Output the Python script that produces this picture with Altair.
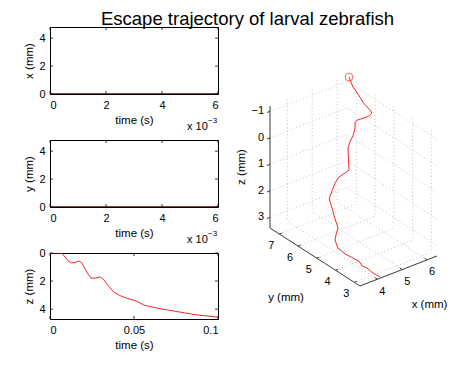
import altair as alt
import pandas as pd

TITLE = "Escape trajectory of larval zebrafish"
FONT = "Liberation Sans"
RED = "#f01010"

# ---- x(t), y(t): time in units of 1e-3 s ----
t_ms = [0, 1, 2, 3, 4, 5, 6]
x_mm = [0, 0, 0, 0, 0, 0, 0]
y_mm = [0, 0, 0, 0, 0, 0, 0]

# ---- z(t) ----
t_s = [0, 0.007, 0.009, 0.011, 0.013, 0.015, 0.0173, 0.019, 0.021, 0.023, 0.0243,
       0.027, 0.030, 0.032, 0.035, 0.038, 0.042, 0.046, 0.050, 0.053, 0.056, 0.062,
       0.068, 0.074, 0.080, 0.087, 0.093, 0.100]
z_mm = [0, 0, 0.29, 0.6, 0.71, 0.67, 0.57, 0.71, 1.19, 1.55, 1.79, 1.79, 1.71, 1.9,
        2.38, 2.79, 3.05, 3.24, 3.36, 3.52, 3.71, 3.88, 4.02, 4.14, 4.26, 4.4, 4.48, 4.57]

# ---- 3D trajectory (mm) ----
traj_x = [6.40, 6.33, 6.26, 6.20, 6.13, 6.06, 5.99, 5.92, 5.85, 5.79, 5.72, 5.65,
          5.58, 5.51, 5.45, 5.38, 5.31, 5.24, 5.17, 5.10, 5.04, 4.97, 4.90, 4.72,
          4.50, 4.28, 4.07, 4.05, 4.11, 4.15, 4.06, 4.11, 4.09, 4.12]
traj_y = [7.39, 7.09, 6.73, 6.32, 5.91, 5.72, 5.79, 5.96, 6.24, 6.26, 6.17, 6.19,
          6.26, 6.27, 6.16, 6.04, 6.16, 6.39, 6.51, 6.58, 6.65, 6.40, 6.15, 5.75,
          5.56, 5.33, 4.90, 4.49, 4.15, 3.83, 3.60, 3.41, 3.05, 2.72]
traj_z = [-1.21, -1.00, -0.92, -0.76, -0.74, -0.74, -0.62, -0.49, -0.31, -0.25,
          -0.09, 0.19, 0.42, 0.63, 1.01, 1.31, 1.45, 1.68, 1.94, 2.25, 2.55, 2.76,
          3.03, 3.12, 3.18, 3.22, 3.25, 3.28, 3.30, 3.32, 3.33, 3.34, 3.36, 3.37]

# 3D axis limits and ticks
X_LIM = [3.3, 6.4]
Y_LIM = [2.7, 7.5]
Z_LIM = [-1.2, 3.4]
x_ticks3 = [4, 5, 6]
y_ticks3 = [3, 4, 5, 6, 7]
z_ticks3 = [-1, 0, 1, 2, 3]

# ---------------- 2D panels ----------------
W, H1, H2, H3 = 168, 67, 67, 66


def ts_panel(df, xf, yf, xdom, ydom, xticks, yticks, ytitle, H, rev, exp_label):
    xs = alt.Scale(domain=xdom, nice=False, zero=False)
    ys = alt.Scale(domain=ydom, nice=False, zero=False, reverse=rev)
    xax = alt.Axis(values=xticks, title="time (s)", format="~g")
    yax = alt.Axis(values=yticks, title=ytitle, format="~g")
    line = alt.Chart(df).mark_line(color=RED, strokeWidth=0.9, clip=True).encode(
        x=alt.X(xf + ":Q", scale=xs, axis=xax),
        y=alt.Y(yf + ":Q", scale=ys, axis=yax),
    )
    xt = pd.DataFrame({"v": xticks})
    yt = pd.DataFrame({"v": yticks})
    xb = alt.Chart(xt).mark_rule(color="black", strokeWidth=0.8).encode(
        x=alt.X("v:Q", scale=xs, axis=xax), y=alt.value(H), y2=alt.value(H - 3))
    xtop = alt.Chart(xt).mark_rule(color="black", strokeWidth=0.8).encode(
        x=alt.X("v:Q", scale=xs, axis=xax), y=alt.value(0), y2=alt.value(3))
    yl = alt.Chart(yt).mark_rule(color="black", strokeWidth=0.8).encode(
        y=alt.Y("v:Q", scale=ys, axis=yax), x=alt.value(0), x2=alt.value(3))
    yr = alt.Chart(yt).mark_rule(color="black", strokeWidth=0.8).encode(
        y=alt.Y("v:Q", scale=ys, axis=yax), x=alt.value(W - 3), x2=alt.value(W))
    layers = [line, xb, xtop, yl, yr]
    if exp_label:
        edge = alt.Chart(pd.DataFrame({"a": [0]})).mark_rule(
            color="black", strokeWidth=1).encode(
            x=alt.value(0), x2=alt.value(W), y=alt.value(H))
        base_t = alt.Chart(pd.DataFrame({"s": ["x 10"]})).mark_text(
            font=FONT, fontSize=11, align="left", baseline="alphabetic", color="black"
        ).encode(text="s:N", x=alt.value(137), y=alt.value(H + 36))
        sup_t = alt.Chart(pd.DataFrame({"s": ["\u22123"]})).mark_text(
            font=FONT, fontSize=8, align="left", baseline="alphabetic", color="black"
        ).encode(text="s:N", x=alt.value(158), y=alt.value(H + 29))
        layers += [edge, base_t, sup_t]
    return alt.layer(*layers).properties(width=W, height=H)


df_x = pd.DataFrame({"t": t_ms, "v": x_mm})
df_y = pd.DataFrame({"t": t_ms, "v": y_mm})
df_z = pd.DataFrame({"t": t_s, "v": z_mm})

p1 = ts_panel(df_x, "t", "v", [0, 6], [0, 4.8], [0, 2, 4, 6], [0, 2, 4], "x (mm)", H1, False, True)
p2 = ts_panel(df_y, "t", "v", [0, 6], [0, 4.8], [0, 2, 4, 6], [0, 2, 4], "y (mm)", H2, False, True)
p3 = ts_panel(df_z, "t", "v", [0, 0.1], [0, 4.7], [0, 0.05, 0.1], [0, 2, 4], "z (mm)", H3, True, False)

# ---------------- 3D panel ----------------
PX0, PY0 = 226, 27
W3, H3D = 235, 292
XS = alt.Scale(domain=[PX0, PX0 + W3], nice=False, zero=False)
YS = alt.Scale(domain=[PY0, PY0 + H3D], nice=False, zero=False, reverse=True)


def sx_expr(xf, yf):
    return f"360 + 24.84*({xf}-{X_LIM[0]}) - 18.75*({yf}-{Y_LIM[0]})"


def sy_expr(xf, yf, zf):
    return (f"164 - 9.68*({xf}-{X_LIM[0]}) - 12.08*({yf}-{Y_LIM[0]})"
            f" + 26.52*({zf}-({Z_LIM[0]}))")


x0, x1 = X_LIM
y0, y1 = Y_LIM
zt, zb = Z_LIM

grid_rows = []
for z in z_ticks3:
    grid_rows.append((x0, y1, z, x1, y1, z))
    grid_rows.append((x1, y0, z, x1, y1, z))
for x in x_ticks3:
    grid_rows.append((x, y1, zt, x, y1, zb))
    grid_rows.append((x, y0, zb, x, y1, zb))
for y in y_ticks3:
    grid_rows.append((x1, y, zt, x1, y, zb))
    grid_rows.append((x0, y, zb, x1, y, zb))
grid_df = pd.DataFrame(grid_rows, columns=["xa", "ya", "za", "xb", "yb", "zb"])

axis_rows = [(x0, y1, zt, x0, y1, zb), (x0, y1, zb, x0, y0, zb), (x0, y0, zb, x1, y0, zb)]
tick_rows = ([(x0, y1, z, x0 - 0.12, y1, z) for z in z_ticks3]
             + [(x0, y, zb, x0 + 0.1, y, zb) for y in y_ticks3]
             + [(x, y0, zb, x, y0 + 0.13, zb) for x in x_ticks3])
axis_df = pd.DataFrame(axis_rows + tick_rows, columns=["xa", "ya", "za", "xb", "yb", "zb"])


def segs(df, **kw):
    return alt.Chart(df).mark_rule(**kw).transform_calculate(
        sx1=sx_expr("datum.xa", "datum.ya"),
        sy1=sy_expr("datum.xa", "datum.ya", "datum.za"),
        sx2=sx_expr("datum.xb", "datum.yb"),
        sy2=sy_expr("datum.xb", "datum.yb", "datum.zb"),
    ).encode(
        x=alt.X("sx1:Q", scale=XS, axis=None),
        y=alt.Y("sy1:Q", scale=YS, axis=None),
        x2="sx2:Q", y2="sy2:Q",
    )


grid_layer = segs(grid_df, color="#b4b4b4", strokeWidth=0.8, strokeDash=[1, 2.5])
axis_layer = segs(axis_df, color="#3a3a3a", strokeWidth=1)

traj_df = pd.DataFrame({"i": list(range(len(traj_x))), "x": traj_x, "y": traj_y, "z": traj_z})
traj_base = alt.Chart(traj_df).transform_calculate(
    sx=sx_expr("datum.x", "datum.y"), sy=sy_expr("datum.x", "datum.y", "datum.z"))
traj_line = traj_base.mark_line(color=RED, strokeWidth=0.9).encode(
    x=alt.X("sx:Q", scale=XS, axis=None), y=alt.Y("sy:Q", scale=YS, axis=None), order="i:Q")
start_pt = traj_base.transform_filter("datum.i == 0").mark_point(
    shape="circle", filled=False, color=RED, size=60, strokeWidth=0.9).encode(
    x=alt.X("sx:Q", scale=XS, axis=None), y=alt.Y("sy:Q", scale=YS, axis=None))


def tick_labels(vals, xf, yf, zf, **kw):
    df = pd.DataFrame({"v": vals})
    return alt.Chart(df).mark_text(font=FONT, fontSize=11, color="black", **kw).transform_calculate(
        sx=sx_expr(xf, yf), sy=sy_expr(xf, yf, zf), lab="format(datum.v, 'd')"
    ).encode(x=alt.X("sx:Q", scale=XS, axis=None), y=alt.Y("sy:Q", scale=YS, axis=None),
             text="lab:N")


zlab = tick_labels(z_ticks3, str(x0), str(y1), "datum.v", align="right", baseline="middle", dx=-6)
ylab = tick_labels(y_ticks3, str(x0), "datum.v", str(zb), align="center", baseline="middle", dx=-8, dy=12)
xlab = tick_labels(x_ticks3, "datum.v", str(y0), str(zb), align="center", baseline="middle", dx=5, dy=12.5)

xm = (x0 + x1) / 2
ym = (y0 + y1) / 2
zm = (zt + zb) / 2
xtitle = alt.Chart(pd.DataFrame({"s": ["x (mm)"]})).mark_text(
    font=FONT, fontSize=11.5, color="black", baseline="middle", dx=31, dy=34
).transform_calculate(sx=sx_expr(xm, y0), sy=sy_expr(xm, y0, zb)).encode(
    x=alt.X("sx:Q", scale=XS, axis=None), y=alt.Y("sy:Q", scale=YS, axis=None), text="s:N")
ytitle = alt.Chart(pd.DataFrame({"s": ["y (mm)"]})).mark_text(
    font=FONT, fontSize=11.5, color="black", baseline="middle", dx=-29, dy=41
).transform_calculate(sx=sx_expr(x0, ym), sy=sy_expr(x0, ym, zb)).encode(
    x=alt.X("sx:Q", scale=XS, axis=None), y=alt.Y("sy:Q", scale=YS, axis=None), text="s:N")
ztitle = alt.Chart(pd.DataFrame({"s": ["z (mm)"]})).mark_text(
    font=FONT, fontSize=11.5, color="black", baseline="middle", angle=270
).transform_calculate(sx=sx_expr(x0, y1) + " - 28", sy=sy_expr(x0, y1, zm)).encode(
    x=alt.X("sx:Q", scale=XS, axis=None), y=alt.Y("sy:Q", scale=YS, axis=None), text="s:N")

title_layer = alt.Chart(pd.DataFrame({"s": [TITLE]})).mark_text(
    font=FONT, fontSize=18.5, color="black", align="center", baseline="alphabetic"
).encode(text="s:N", x=alt.value(247.5 - PX0), y=alt.value(24.5 - PY0))

anchor = alt.Chart(pd.DataFrame({"a": [0]})).mark_rule(opacity=0, strokeWidth=0.01).encode(
    x=alt.value(8 - PX0), x2=alt.value(9 - PX0), y=alt.value(8 - PY0), y2=alt.value(9 - PY0))

p3d = alt.layer(grid_layer, axis_layer, traj_line, start_pt, zlab, ylab, xlab,
                xtitle, ytitle, ztitle, title_layer, anchor).properties(
    width=W3, height=H3D, view=alt.ViewBackground(stroke=None))

# with flush bounds the nested column counts as zero width, so the spacing
# carries the column width (168) plus the 8px gap
left = alt.vconcat(p1, p2, p3, spacing=46, bounds="flush")
chart = alt.hconcat(left, p3d, spacing=W + 8, bounds="flush").properties(
    padding=0, background="white"
).configure_axis(
    domain=False, ticks=False, tickSize=0, grid=False, labelPadding=5, titlePadding=4,
    labelFontSize=11, titleFontSize=11.5, labelFont=FONT, titleFont=FONT,
    titleFontWeight="normal", labelColor="black", titleColor="black",
).configure_view(stroke="black", strokeWidth=1)

chart.save("out.html", embed_options={"renderer": "svg", "actions": False})
